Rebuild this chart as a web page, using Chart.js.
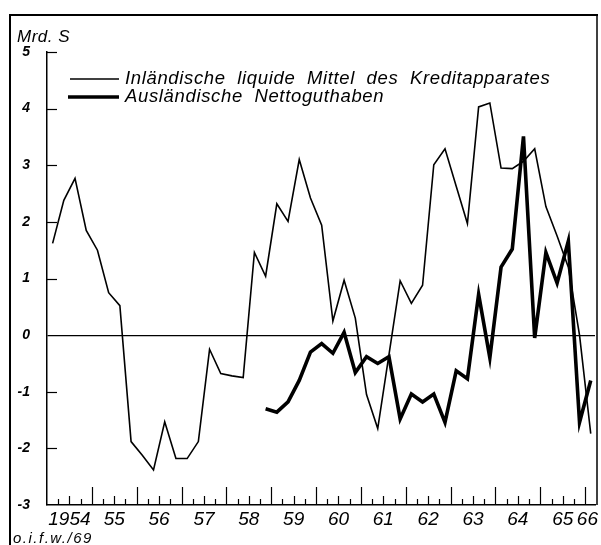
<!DOCTYPE html>
<html>
<head>
<meta charset="utf-8">
<script src="https://cdn.jsdelivr.net/npm/chart.js@4.4.1/dist/chart.umd.min.js"></script>
<style>
  html, body { margin: 0; padding: 0; background: #fff; }
  #wrap { position: relative; width: 601px; height: 545px; }
</style>
</head>
<body>
<div id="wrap"><canvas id="c" width="601" height="545"></canvas></div>
<script>
// Year tick labels (one per year, 1954 .. 1966)
const yearLabels = ['1954','55','56','57','58','59','60','61','62','63','64','65','66'];
const firstYear = 1954;

// Quarterly values, 1954 Q1 .. 1966 Q1 (Mrd. S)
const inland = [
  1.62, 2.38, 2.77, 1.85,
  1.50, 0.75, 0.52, -1.88,
  -2.12, -2.38, -1.53, -2.18,
  -2.18, -1.88, -0.25, -0.68,
  -0.72, -0.75, 1.46, 1.04,
  2.32, 2.01, 3.10, 2.42,
  1.94, 0.25, 0.97, 0.30,
  -1.05, -1.65, -0.35, 0.96,
  0.56, 0.88, 3.01, 3.29,
  2.63, 1.97, 4.03, 4.10,
  2.95, 2.94, 3.07, 3.29,
  2.27, 1.75, 1.20, 0.00,
  -1.74
];
const ausland = [
  null, null, null, null,
  null, null, null, null,
  null, null, null, null,
  null, null, null, null,
  null, null, null, -1.30,
  -1.36, -1.18, -0.80, -0.30,
  -0.15, -0.32, 0.05, -0.66,
  -0.38, -0.50, -0.38, -1.48,
  -1.04, -1.18, -1.04, -1.54,
  -0.63, -0.77, 0.72, -0.40,
  1.20, 1.52, 3.51, -0.05,
  1.46, 0.92, 1.66, -1.54,
  -0.80
];
const seriesNames = [
  'Inländische  liquide  Mittel  des  Kreditapparates',
  'Ausländische  Nettoguthaben'
];

function toPoints(arr) {
  return arr.map((v, i) => ({ x: firstYear + (i + 0.5) / 4, y: v }));
}

const FONT = '"Liberation Sans", Arial, sans-serif';

const framePlugin = {
  id: 'frame',
  afterDraw(chart) {
    const ctx = chart.ctx;
    const xs = chart.scales.x, ys = chart.scales.y;
    const area = chart.chartArea;
    ctx.save();
    ctx.strokeStyle = '#000';
    // outer frame
    ctx.lineWidth = 2;
    ctx.beginPath();
    ctx.moveTo(10, 545); ctx.lineTo(10, 15); ctx.lineTo(598, 15);
    ctx.stroke();
    ctx.lineWidth = 1.5;
    ctx.beginPath();
    ctx.moveTo(597, 15); ctx.lineTo(597, area.bottom);
    ctx.stroke();
    // quarterly ticks on x axis
    ctx.lineWidth = 1.2;
    for (let q = 1; q <= 48; q++) {
      const px = Math.round(xs.getPixelForValue(firstYear + q / 4)) + 0.5;
      const len = q % 4 === 0 ? 18 : (q % 2 === 0 ? 9 : 6);
      ctx.beginPath();
      ctx.moveTo(px, area.bottom);
      ctx.lineTo(px, area.bottom - len);
      ctx.stroke();
    }
    // inward ticks on y axis
    for (let v = -2; v <= 5; v++) {
      if (v === 0) continue;
      const py = Math.round(ys.getPixelForValue(v)) + 0.5;
      ctx.beginPath();
      ctx.moveTo(area.left, py);
      ctx.lineTo(area.left + 10, py);
      ctx.stroke();
    }
    // unit label
    ctx.fillStyle = '#000';
    ctx.textBaseline = 'alphabetic';
    ctx.textAlign = 'left';
    ctx.font = 'italic 17px ' + FONT;
    ctx.letterSpacing = '0.5px';
    ctx.fillText('Mrd. S', 17, 42);
    // source
    ctx.font = 'italic 15px ' + FONT;
    ctx.letterSpacing = '1.5px';
    ctx.fillText('o.i.f.w./69', 13, 543);
    // legend
    const rows = [{ y: 79, tx: 84 }, { y: 97, tx: 102 }];
    ctx.letterSpacing = '0.65px';
    chart.data.datasets.forEach((ds, i) => {
      const r = rows[i];
      ctx.lineWidth = ds.borderWidth;
      ctx.beginPath();
      ctx.moveTo(i === 0 ? 70 : 68, r.y);
      ctx.lineTo(119, r.y);
      ctx.stroke();
      ctx.font = 'italic 18.5px ' + FONT;
      ctx.fillText(ds.label, 125, r.tx);
    });
    ctx.restore();
  }
};

new Chart(document.getElementById('c'), {
  type: 'line',
  data: {
    datasets: [
      {
        label: seriesNames[0],
        data: toPoints(inland),
        borderColor: '#000',
        borderWidth: 1.6,
        pointRadius: 0,
        tension: 0,
        fill: false
      },
      {
        label: seriesNames[1],
        data: toPoints(ausland),
        borderColor: '#000',
        borderWidth: 3.6,
        pointRadius: 0,
        tension: 0,
        fill: false,
        spanGaps: false
      }
    ]
  },
  options: {
    responsive: false,
    animation: false,
    layout: { padding: { left: 0, top: 52, right: 4, bottom: 0 } },
    plugins: { legend: { display: false }, tooltip: { enabled: false } },
    scales: {
      x: {
        type: 'linear',
        min: 1954,
        max: 1966.22,
        afterFit(scale) { scale.height = 40; },
        afterBuildTicks(scale) {
          scale.ticks = yearLabels.map((l, i) => ({ value: i < yearLabels.length - 1 ? firstYear + i + 0.5 : firstYear + i + 0.05 }));
        },
        ticks: {
          autoSkip: false,
          maxRotation: 0,
          padding: 3,
          color: '#000',
          font: { family: FONT, size: 19, style: 'italic' },
          callback(value, index) { return yearLabels[index]; }
        },
        grid: { display: false, drawTicks: false },
        border: { display: true, color: '#000', width: 1.5 }
      },
      y: {
        min: -3,
        max: 5,
        afterFit(scale) { scale.width = 47; },
        ticks: {
          stepSize: 1,
          padding: 17,
          color: '#000',
          font: { family: FONT, size: 14, style: 'italic', weight: 'bold' }
        },
        grid: {
          drawTicks: false,
          color: (c) => (c.tick && c.tick.value === 0 ? '#000' : 'rgba(0,0,0,0)'),
          lineWidth: 1.2
        },
        border: { display: true, color: '#000', width: 1.5 }
      }
    }
  },
  plugins: [framePlugin]
});
</script>
</body>
</html>
